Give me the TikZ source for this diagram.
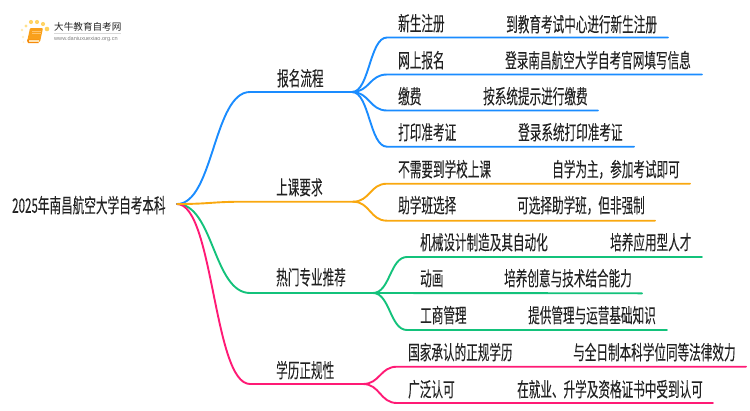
\documentclass[tikz,border=0pt]{standalone}
\usepackage{fontspec}
\setmainfont{Liberation Sans}
\newfontfamily\cjk[FakeStretch=0.58,FakeBold=0.04]{Noto Sans CJK SC}
\newfontfamily\cjklogo{Noto Sans CJK SC}
\usetikzlibrary{calc}
\definecolor{cblue}{HTML}{1A8CFF}
\definecolor{corange}{HTML}{F9A80F}
\definecolor{cgreen}{HTML}{13C27B}
\definecolor{cpink}{HTML}{FF1A75}
\definecolor{ctext}{HTML}{222222}
\definecolor{bookA}{HTML}{F9A01B}
\definecolor{bookB}{HTML}{F58A0B}
\definecolor{bookC}{HTML}{FFE2B0}
\definecolor{bookD}{HTML}{FFC46B}
\definecolor{logoline}{HTML}{D9D9D9}
\tikzset{
  lbl/.style={anchor=west,inner sep=0pt,text=ctext,font=\cjk\fontsize{20}{20}\selectfont,text height=15.6pt,text depth=0pt},
  conn/.style={line width=1.9pt,line cap=round,line join=round},
  branch/.style={to path={.. controls ($(\tikztostart)!.5!(\tikztotarget |- \tikztostart)$) and ($(\tikztotarget)!.5!(\tikztostart |- \tikztotarget)$) .. (\tikztotarget)}},
}
\begin{document}
\begin{tikzpicture}[x=1pt,y=-1pt]
\useasboundingbox (0,0) rectangle (750,410);
% logo
\foreach \x/\y/\r/\c in {22/30/1.4/FFE9B0,26/26/1.7/FFE08A,31/22/2.1/FFD466,37/22/2.1/FFD466,43/24/2.1/FFD466,47/29/2.3/FFD25C,23/37/1.3/FFEFC8,23.5/42/1/FFF3D8}{
  \definecolor{tmpc}{HTML}{\c}
  \fill[tmpc] (\x,\y) circle (\r pt);
}
\fill[bookA,rounded corners=1pt] (30,28) -- (43,28) -- (40,42) -- (27,42) -- cycle;
\fill[bookB] (27,39.5) -- (39,39.5) -- (38.5,43) -- (28,43) -- cycle;
\fill[bookC] (28.5,40) -- (38.5,40) -- (38.5,41.5) -- (28.5,41.5) -- cycle;
\draw[bookD,line width=.6pt] (32,31) -- (41,31) (31.5,33) -- (40.5,33);
\node[anchor=west,inner sep=0pt,text=ctext,font=\cjklogo\fontsize{9.6}{10}\selectfont] (logot) at (54,27) {大牛教育自考网};
\draw[logoline,line width=.5pt] (54,33) -- (121,33);
\node[anchor=west,inner sep=0pt,text=gray,font=\fontsize{5.6}{6}\selectfont] (logou) at (54,39) {www.daniuxuexiao.org.cn};
% text
\node[lbl] (root) at (12,205) {2025年南昌航空大学自考本科};
\node[lbl] (a) at (277,78) {报名流程};
\node[lbl] (a1) at (398,23) {新生注册};
\node[lbl] (a1d) at (506,24) {到教育考试中心进行新生注册};
\node[lbl] (a2) at (398,60) {网上报名};
\node[lbl] (a2d) at (505,60) {登录南昌航空大学自考官网填写信息};
\node[lbl] (a3) at (398,96) {缴费};
\node[lbl] (a3d) at (483,96) {按系统提示进行缴费};
\node[lbl] (a4) at (398,132) {打印准考证};
\node[lbl] (a4d) at (518,132) {登录系统打印准考证};
\node[lbl] (b) at (276,187) {上课要求};
\node[lbl] (b1) at (398,169) {不需要到学校上课};
\node[lbl] (b1d) at (552,169) {自学为主，参加考试即可};
\node[lbl] (b2) at (398,205) {助学班选择};
\node[lbl] (b2d) at (517,205) {可选择助学班，但非强制};
\node[lbl] (c) at (276,277) {热门专业推荐};
\node[lbl] (c1) at (420,242) {机械设计制造及其自动化};
\node[lbl] (c1d) at (610,242) {培养应用型人才};
\node[lbl] (c2) at (420,278) {动画};
\node[lbl] (c2d) at (504,278) {培养创意与技术结合能力};
\node[lbl] (c3) at (420,315) {工商管理};
\node[lbl] (c3d) at (528,315) {提供管理与运营基础知识};
\node[lbl] (d) at (276,370) {学历正规性};
\node[lbl] (d1) at (408,352) {国家承认的正规学历};
\node[lbl] (d1d) at (573,352) {与全日制本科学位同等法律效力};
\node[lbl] (d2) at (408,389) {广泛认可};
\node[lbl] (d2d) at (517,389) {在就业、升学及资格证书中受到认可};
% connector points
\coordinate (o) at (177,204);
\coordinate (as) at (250,92); \coordinate (ak) at (352,92);
\coordinate (a1s) at (387,37.5); \coordinate (a1e) at (668,37.5);
\coordinate (a2s) at (387,74.5); \coordinate (a2e) at (702,74.5);
\coordinate (a3s) at (387,110.5); \coordinate (a3e) at (598,110.5);
\coordinate (a4s) at (387,146.7); \coordinate (a4e) at (634,146.7);
\coordinate (bs) at (245,201.7); \coordinate (bk) at (353,201.7);
\coordinate (b1s) at (387,183.7); \coordinate (b1e) at (690,183.7);
\coordinate (b2s) at (387,220.7); \coordinate (b2e) at (655,220.7);
\coordinate (cs) at (250,293); \coordinate (ck) at (373,293);
\coordinate (c1s) at (407,257); \coordinate (c1e) at (702,257);
\coordinate (c2e) at (642,293.3);
\coordinate (c3s) at (407,330); \coordinate (c3e) at (667,330);
\coordinate (ds) at (250,384); \coordinate (dk) at (363,384);
\coordinate (d1s) at (397,366.7); \coordinate (d1e) at (746,366.7);
\coordinate (d2s) at (397,403); \coordinate (d2e) at (713,403);
% connectors
\draw[conn,cgreen] (o) to[branch] (cs) -- (ck);
\draw[conn,cgreen] (ck) to[branch] (c1s) -- (c1e);
\draw[conn,cgreen] (ck) -- (c2e);
\draw[conn,cgreen] (ck) to[branch] (c3s) -- (c3e);
\draw[conn,cpink] (o) to[branch] (ds) -- (dk);
\draw[conn,cpink] (dk) to[branch] (d1s) -- (d1e);
\draw[conn,cpink] (dk) to[branch] (d2s) -- (d2e);
\draw[conn,cblue] (o) to[branch] (as) -- (ak);
\draw[conn,cblue] (ak) to[branch] (a1s) -- (a1e);
\draw[conn,cblue] (ak) to[branch] (a2s) -- (a2e);
\draw[conn,cblue] (ak) to[branch] (a3s) -- (a3e);
\draw[conn,cblue] (ak) to[branch] (a4s) -- (a4e);
\draw[conn,corange] (o) to[branch] (bs) -- (bk);
\draw[conn,corange] (bk) to[branch] (b1s) -- (b1e);
\draw[conn,corange] (bk) to[branch] (b2s) -- (b2e);
\end{tikzpicture}
\end{document}
